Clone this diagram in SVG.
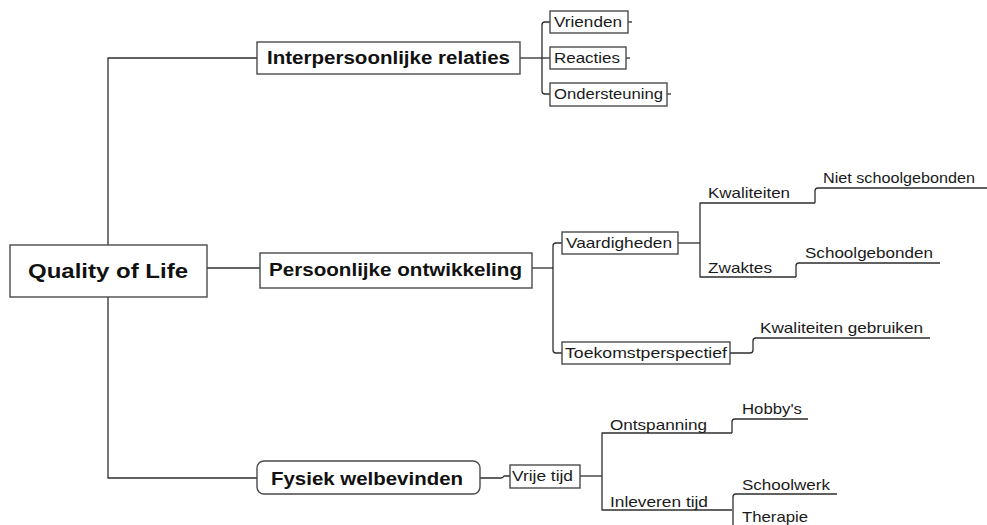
<svg xmlns="http://www.w3.org/2000/svg" width="987" height="525" viewBox="0 0 987 525">
  <style>
    .box { fill: #ffffff; stroke: #4a4a4a; stroke-width: 1.4; }
    .wire { fill: none; stroke: #2e2e2e; stroke-width: 1.3; stroke-linejoin: round; }
    .main { font-family: "Liberation Sans", Arial, sans-serif; font-weight: bold; fill: #111; }
    .lbl { font-family: "Liberation Sans", Arial, sans-serif; font-size: 15px; fill: #1a1a1a; }
  </style>
  <rect width="987" height="525" fill="#ffffff"/>

  <g id="connectors">
    <!-- root to main branches -->
    <path class="wire" d="M108 245 V58 H257"/>
    <path class="wire" d="M207 268 H260"/>
    <path class="wire" d="M108 297 V478 H257"/>

    <!-- Interpersoonlijke relaties -->
    <path class="wire" d="M520 58 H542"/>
    <path class="wire" d="M550 22 H545 Q542 22 542 25 V91 Q542 94 545 94 H550"/>
    <path class="wire" d="M542 58 H550"/>
    <path class="wire" d="M628 22 H632"/>
    <path class="wire" d="M626 58 H630"/>
    <path class="wire" d="M667 94 H671"/>

    <!-- Persoonlijke ontwikkeling -->
    <path class="wire" d="M532 268 H553"/>
    <path class="wire" d="M562 243 H556 Q553 243 553 246 V350 Q553 353 556 353 H562"/>
    <path class="wire" d="M678 243 H700"/>
    <path class="wire" d="M815 203 H700 V277 H796"/>
    <path class="wire" d="M815 203 V191 Q815 188 818 188 H987"/>
    <path class="wire" d="M796 277 V266 Q796 263 799 263 H940"/>
    <path class="wire" d="M730 353 H750 Q753 353 753 350 V341 Q753 338 756 338 H930"/>

    <!-- Fysiek welbevinden -->
    <path class="wire" d="M480 478 H501 Q503 478 504 476 H510"/>
    <path class="wire" d="M580 476 H602"/>
    <path class="wire" d="M732 433 H602 V510 H732"/>
    <path class="wire" d="M732 433 V422 Q732 419 735 419 H808"/>
    <path class="wire" d="M733 525 V497 Q733 494 736 494 H837"/>
  </g>

  <g id="quality-of-life">
    <rect class="box" x="10" y="245" width="197" height="52"/>
    <text class="main" x="28" y="278" font-size="21" textLength="160" lengthAdjust="spacingAndGlyphs">Quality of Life</text>
  </g>

  <g id="interpersoonlijke-relaties">
    <rect class="box" x="257" y="42" width="263" height="32"/>
    <text class="main" x="267" y="64" font-size="18" textLength="243" lengthAdjust="spacingAndGlyphs">Interpersoonlijke relaties</text>
  </g>
  <g id="vrienden">
    <rect class="box" x="550" y="11" width="78" height="22"/>
    <text class="lbl" x="554" y="27" textLength="68" lengthAdjust="spacingAndGlyphs">Vrienden</text>
  </g>
  <g id="reacties">
    <rect class="box" x="550" y="47" width="76" height="22"/>
    <text class="lbl" x="554" y="63" textLength="66" lengthAdjust="spacingAndGlyphs">Reacties</text>
  </g>
  <g id="ondersteuning">
    <rect class="box" x="550" y="83" width="117" height="23"/>
    <text class="lbl" x="554" y="99" textLength="109" lengthAdjust="spacingAndGlyphs">Ondersteuning</text>
  </g>

  <g id="persoonlijke-ontwikkeling">
    <rect class="box" x="260" y="253" width="272" height="35"/>
    <text class="main" x="269" y="276" font-size="18" textLength="253" lengthAdjust="spacingAndGlyphs">Persoonlijke ontwikkeling</text>
  </g>
  <g id="vaardigheden">
    <rect class="box" x="562" y="232" width="116" height="22"/>
    <text class="lbl" x="566" y="248" textLength="106" lengthAdjust="spacingAndGlyphs">Vaardigheden</text>
  </g>
  <g id="kwaliteiten">
    <text class="lbl" x="708" y="198" textLength="82" lengthAdjust="spacingAndGlyphs">Kwaliteiten</text>
  </g>
  <g id="niet-schoolgebonden">
    <text class="lbl" x="823" y="183" textLength="152" lengthAdjust="spacingAndGlyphs">Niet schoolgebonden</text>
  </g>
  <g id="zwaktes">
    <text class="lbl" x="708" y="273" textLength="64" lengthAdjust="spacingAndGlyphs">Zwaktes</text>
  </g>
  <g id="schoolgebonden">
    <text class="lbl" x="805" y="258" textLength="128" lengthAdjust="spacingAndGlyphs">Schoolgebonden</text>
  </g>
  <g id="toekomstperspectief">
    <rect class="box" x="562" y="342" width="168" height="22"/>
    <text class="lbl" x="565" y="358" textLength="162" lengthAdjust="spacingAndGlyphs">Toekomstperspectief</text>
  </g>
  <g id="kwaliteiten-gebruiken">
    <text class="lbl" x="760" y="333" textLength="163" lengthAdjust="spacingAndGlyphs">Kwaliteiten gebruiken</text>
  </g>

  <g id="fysiek-welbevinden">
    <rect class="box" x="257" y="461" width="223" height="33" rx="7"/>
    <text class="main" x="271" y="485" font-size="18" textLength="192" lengthAdjust="spacingAndGlyphs">Fysiek welbevinden</text>
  </g>
  <g id="vrije-tijd">
    <rect class="box" x="510" y="465" width="70" height="23"/>
    <text class="lbl" x="512" y="481" textLength="61" lengthAdjust="spacingAndGlyphs">Vrije tijd</text>
  </g>
  <g id="ontspanning">
    <text class="lbl" x="610" y="430" textLength="97" lengthAdjust="spacingAndGlyphs">Ontspanning</text>
  </g>
  <g id="hobbys">
    <text class="lbl" x="742" y="414" textLength="60" lengthAdjust="spacingAndGlyphs">Hobby's</text>
  </g>
  <g id="inleveren-tijd">
    <text class="lbl" x="610" y="507" textLength="98" lengthAdjust="spacingAndGlyphs">Inleveren tijd</text>
  </g>
  <g id="schoolwerk">
    <text class="lbl" x="742" y="490" textLength="88" lengthAdjust="spacingAndGlyphs">Schoolwerk</text>
  </g>
  <g id="therapie">
    <text class="lbl" x="742" y="522" textLength="66" lengthAdjust="spacingAndGlyphs">Therapie</text>
  </g>
</svg>
